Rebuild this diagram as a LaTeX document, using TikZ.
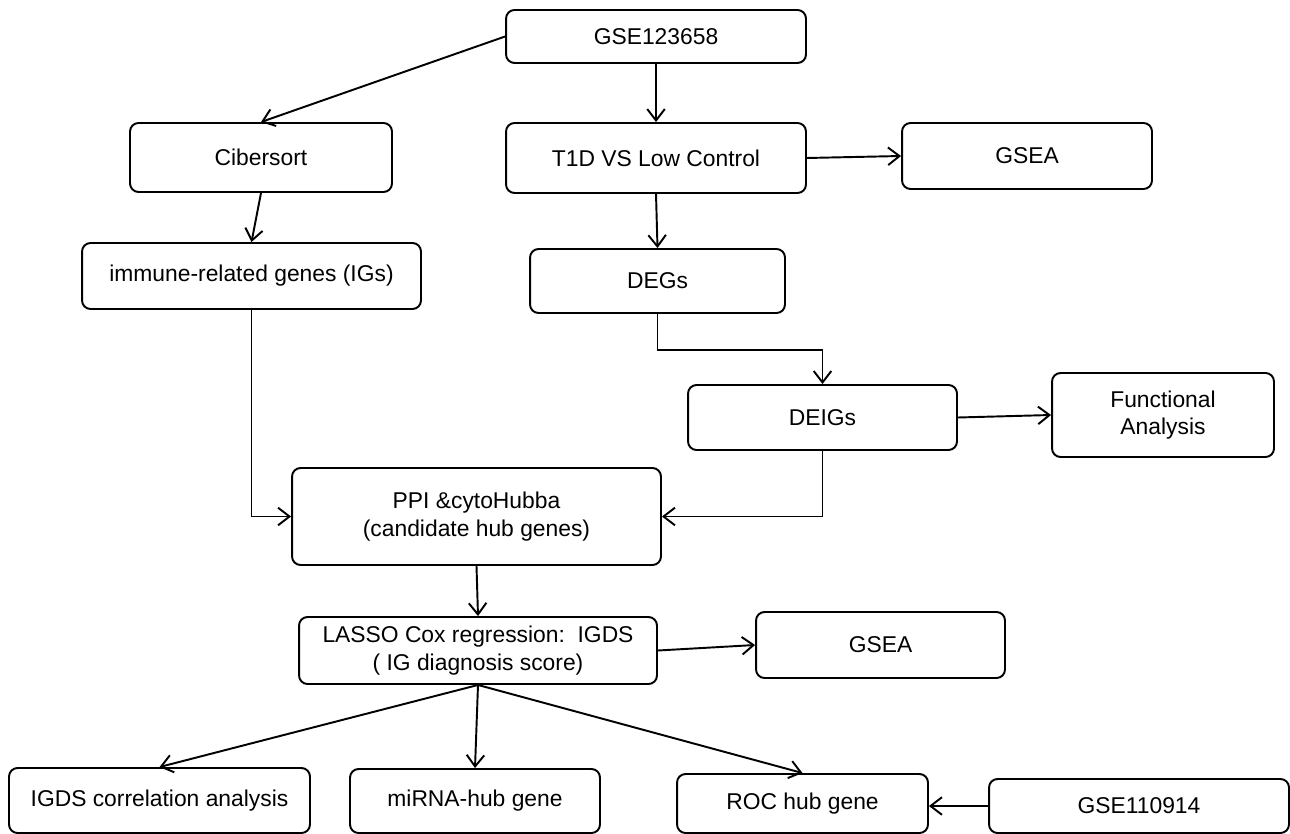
\documentclass[tikz,border=0pt]{standalone}
\usepackage{fontspec}
\setmainfont{Liberation Sans}
\usetikzlibrary{arrows.meta}

\tikzset{
  flowbox/.style={draw, rounded corners=0.17cm, align=center, inner sep=0pt,
    font=\fontsize{13}{15.5}\selectfont},
}

\begin{document}
\begin{tikzpicture}[x=0.02cm, y=-0.02cm, line width=1.1pt, >={Straight Barb[length=6.5pt,width=10pt]}]
  \fill[white] (0,0) rectangle (1290,834);
  \useasboundingbox (0,0) rectangle (1290,834);

  \node[flowbox, minimum width=6cm, minimum height=1.06cm] (gseA) at (656,36.5) {GSE123658};
  \node[flowbox, minimum width=5.24cm, minimum height=1.38cm] (cib) at (261,157.5) {Cibersort};
  \node[flowbox, minimum width=6cm, minimum height=1.4cm] (t1d) at (656,158) {T1D VS Low Control};
  \node[flowbox, minimum width=5cm, minimum height=1.32cm] (gseaA) at (1027,156) {GSEA};
  \node[flowbox, minimum width=6.78cm, minimum height=1.32cm] (igs) at (251.5,276) {immune-related genes (IGs)};
  \node[flowbox, minimum width=5.1cm, minimum height=1.28cm] (degs) at (657.5,281) {DEGs};
  \node[flowbox, minimum width=5.38cm, minimum height=1.3cm] (deigs) at (822.5,417.5) {DEIGs};
  \node[flowbox, minimum width=4.44cm, minimum height=1.68cm] (func) at (1163,415) {Functional\\Analysis};
  \node[flowbox, minimum width=7.38cm, minimum height=1.94cm] (ppi) at (476.5,516.5) {PPI \&cytoHubba\\(candidate hub genes)};
  \node[flowbox, minimum width=7.16cm, minimum height=1.34cm] (lasso) at (478,650.5) {LASSO Cox regression:\ \ IGDS\\( IG diagnosis score)};
  \node[flowbox, minimum width=4.98cm, minimum height=1.32cm] (gseaB) at (880.5,645) {GSEA};
  \node[flowbox, minimum width=6.02cm, minimum height=1.3cm] (igds) at (159.5,800.5) {IGDS correlation analysis};
  \node[flowbox, minimum width=5cm, minimum height=1.28cm] (mirna) at (475,801) {miRNA-hub gene};
  \node[flowbox, minimum width=5.02cm, minimum height=1.18cm] (roc) at (802.5,803.5) {ROC hub gene};
  \node[flowbox, minimum width=6cm, minimum height=1.08cm] (gseB) at (1139,806) {GSE110914};

  \draw[->] (gseA.west) -- (cib.north);
  \draw[->] (gseA) -- (t1d);
  \draw[->] (t1d.east) -- (gseaA.west);
  \draw[->] (t1d.south) -- (degs.north);
  \draw[->] (cib.south) -- (igs.north);
  \draw[->] (degs.south) -- ++(0,36) -| (deigs.north);
  \draw[->] (deigs.east) -- (func.west);
  \draw[->] (igs.south) |- (ppi.west);
  \draw[->] (deigs.south) |- (ppi.east);
  \draw[->] (ppi.south) -- (lasso.north);
  \draw[->] (lasso.east) -- (gseaB.west);
  \draw[->] (lasso.south) -- (igds.north);
  \draw[->] (lasso.south) -- (mirna.north);
  \draw[->] (lasso.south) -- (roc.north);
  \draw[->] (gseB.west) -- (gseB.west -| roc.east);
\end{tikzpicture}
\end{document}
